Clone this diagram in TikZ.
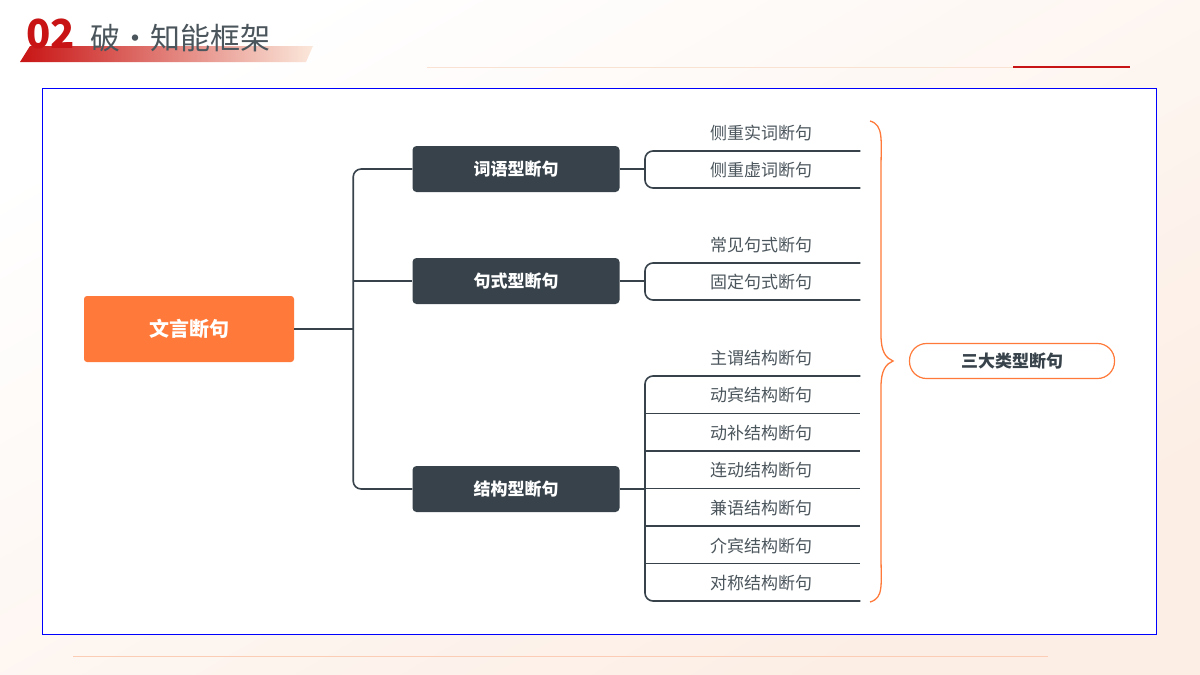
\documentclass[tikz,border=0pt]{standalone}
\usepackage{fontspec}
\setmainfont{Noto Sans CJK SC}
\usetikzlibrary{positioning,calc}
\definecolor{dark}{RGB}{55,66,74}
\definecolor{orng}{RGB}{255,122,58}
\definecolor{bred}{RGB}{200,20,20}
\definecolor{peach}{RGB}{250,226,210}
\begin{document}
\begin{tikzpicture}[x=1pt,y=-1pt,
  root/.style={fill=orng,rounded corners=3,text=white,font=\bfseries\fontsize{20}{24}\selectfont,minimum width=210,minimum height=66},
  kind/.style={fill=dark,rounded corners=4,text=white,font=\bfseries\fontsize{17}{20}\selectfont,minimum width=207,minimum height=46},
  leaf/.style={font=\fontsize{17}{20}\selectfont,text=dark!90,minimum width=215,minimum height=37,anchor=south west,inner sep=0pt,text depth=0pt},
  line/.style={dark,line width=1.6pt,rounded corners=8}]
% background
\shade[top color=white,bottom color=peach!60,shading angle=30] (0,0) rectangle (1200,675);
\useasboundingbox (0,0) rectangle (1200,675);
% title
\shade[left color=bred,right color=peach!80] (30,46) -- (313,46) -- (306,62) -- (20,62) -- cycle;
\node[anchor=west,text=bred,font=\bfseries\fontsize{40}{40}\selectfont,inner sep=0] (num) at (26,34) {02};
\node[anchor=west,text=dark!90,font=\fontsize{30}{32}\selectfont,inner sep=0] (title) at (90,38) {破•知能框架};
\draw[peach,line width=1pt] (427,67) -- (1013,67);
\draw[bred,line width=2.5pt] (1013,67) -- (1130,67);
\draw[peach!80!orng,line width=0.8pt] (73,656) -- (1048,656);
\fill[white] (42,88) rectangle (1156,634);
\draw[blue,line width=0.8pt] (42,88) rectangle (1156,634);
% nodes
\node[root] (wy) at (189,329) {文言断句};
\node[kind] (b1) at (516,169) {词语型断句};
\node[kind] (b2) at (516,281) {句式型断句};
\node[kind] (b3) at (516,489) {结构型断句};
\node[leaf] (a1) at (645,151) {\quad 侧重实词断句};
\node[leaf] (a2) at (645,188) {\quad 侧重虚词断句};
\node[leaf] (c1) at (645,263) {\quad 常见句式断句};
\node[leaf] (c2) at (645,300) {\quad 固定句式断句};
\foreach \t [count=\i] in {主谓结构断句,动宾结构断句,动补结构断句,连动结构断句,兼语结构断句,介宾结构断句,对称结构断句}
  \node[leaf] (s\i) at (645,{376+37.5*(\i-1)}) {\quad \t};
\node[draw=orng,line width=1.2pt,rounded corners=17,minimum width=205,minimum height=35,font=\bfseries\fontsize{17}{20}\selectfont,text=dark] (sd) at (1012,361) {三大类型断句};
% connectors
\draw[line] (wy.east) -- ++(59,0) coordinate (tr);
\draw[line] (b1.west) -| (tr) |- (b3.west);
\draw[line] (tr |- b2.west) -- (b2.west);
\draw[line] (b1.east) -- (b1.east -| a1.south west);
\draw[line] (b2.east) -- (b2.east -| c1.south west);
\draw[line] (b3.east) -- (b3.east -| s1.south west);
\draw[line] (a1.south east) -- (a1.south west) -- (a2.south west) -- (a2.south east);
\draw[line] (c1.south east) -- (c1.south west) -- (c2.south west) -- (c2.south east);
\draw[line] (s1.south east) -- (s1.south west) -- (s7.south west) -- (s7.south east);
\foreach \i in {2,...,6} \draw[dark,line width=1.6pt] (s\i.south west) -- (s\i.south east);
% brace
\draw[orng,line width=1.3pt] (870,121) .. controls (884,125) and (881,140) .. (881,170) -- (881,335) .. controls (881,352) and (886,358) .. (893,361) .. controls (886,364) and (881,370) .. (881,387) -- (881,555) .. controls (881,585) and (884,598) .. (870,602);
\end{tikzpicture}
\end{document}
